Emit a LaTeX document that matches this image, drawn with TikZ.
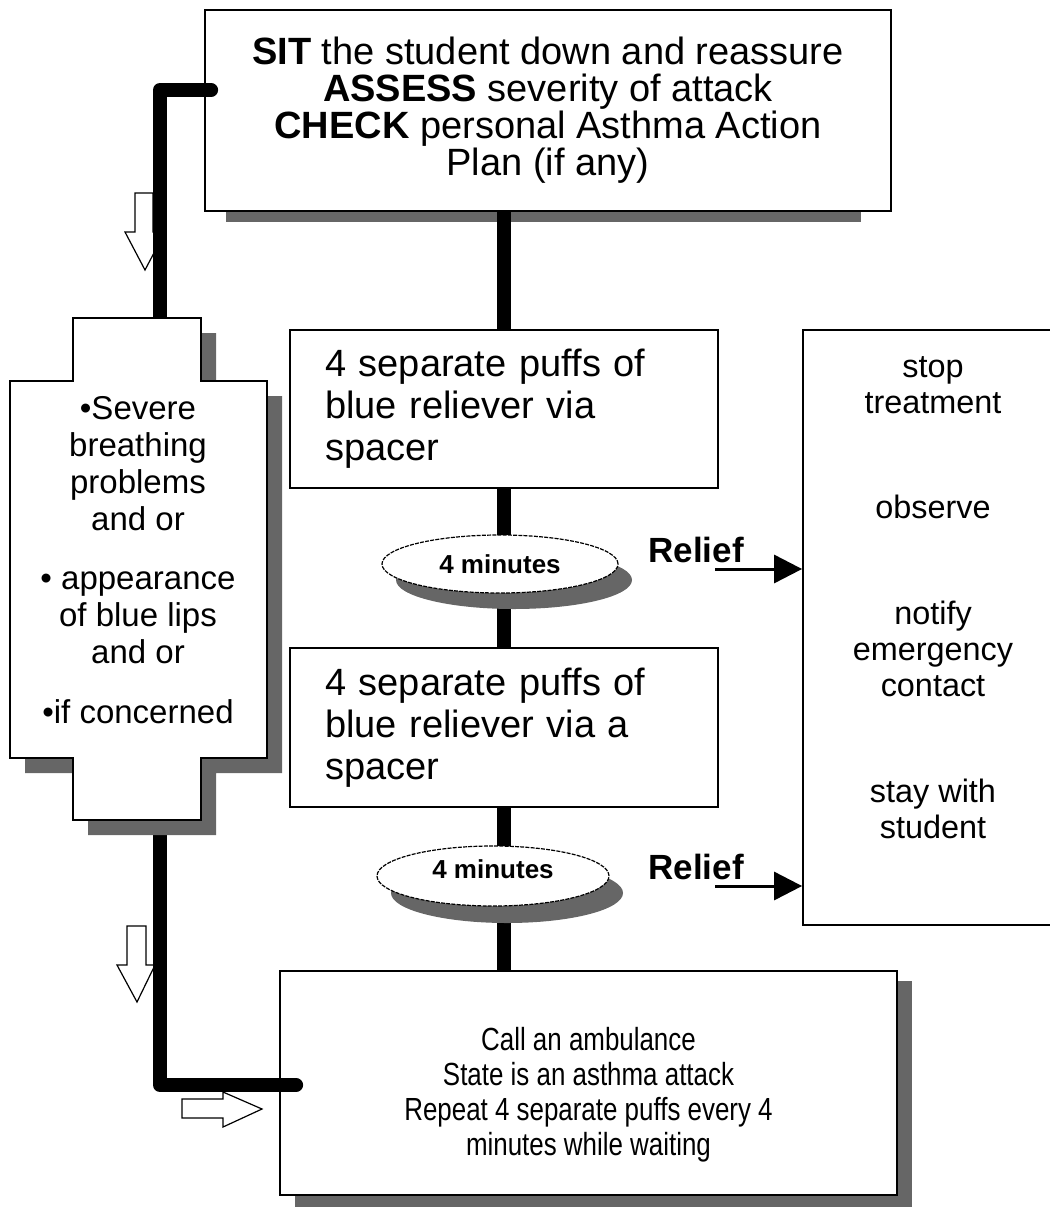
\documentclass[tikz,border=0pt]{standalone}
\usepackage{fontspec}
\setmainfont{Liberation Sans}
\newfontfamily\narrowsans[FakeStretch=0.81]{Liberation Sans}
\usetikzlibrary{arrows.meta,shapes.geometric}
\definecolor{shadowgray}{HTML}{666666}
\newcommand{\sitfont}{\fontsize{19}{18.5}\selectfont}
\newcommand{\puffsfont}{\fontsize{19}{21}\selectfont}
\newcommand{\signsfont}{\fontsize{16.5}{18.5}\selectfont}
\newcommand{\careafont}{\fontsize{16.2}{18}\selectfont}
\newcommand{\ambfont}{\narrowsans\fontsize{16}{17.5}\selectfont}
\newcommand{\minsfont}{\bfseries\fontsize{13}{14}\selectfont}
\newcommand{\relieffont}{\bfseries\fontsize{17.5}{18}\selectfont}

\begin{document}
\begin{tikzpicture}[x=0.5pt,y=-0.5pt,
  box/.style={draw,fill=white,line width=0.9pt,inner sep=0pt},
  oval/.style={draw,fill=white,ellipse,inner sep=0pt,line width=0.6pt,dash pattern=on 2pt off 0.6pt},
  spine/.style={line width=7pt},
  hollow/.style={draw,fill=white,line width=0.6pt},
  dropshadow/.style={fill=shadowgray},
  reliefarrow/.style={-{Triangle[length=14pt,width=14pt]},line width=1.5pt}]
  \useasboundingbox (0,0) rectangle (1049,1230);
  \def\cross{(73,318) -- (201,318) -- (201,381) -- (267,381) -- (267,758) -- (201,758) -- (201,820) -- (73,820) -- (73,758) -- (10,758) -- (10,381) -- (73,381) -- cycle}
  % shadows of the boxes
  \fill[dropshadow] (226,200) rectangle (861,222);
  \fill[dropshadow] (295,981) rectangle (912,1207);

  \node[box,minimum width=343pt,minimum height=100.5pt,align=center,font=\sitfont] (sit) at (548,110.5)
    {\textbf{SIT} the student down and reassure\\\textbf{ASSESS} severity of attack\\\textbf{CHECK} personal Asthma Action\\Plan (if any)};
  \node[box,minimum width=214pt,minimum height=79pt,inner xsep=17.5pt,text width=179pt,align=left,font=\puffsfont] (puffsa) at (504,409)
    {4 separate puffs of\\blue reliever via\\spacer};
  \node[box,minimum width=214pt,minimum height=79.5pt,inner xsep=17.5pt,text width=179pt,align=left,font=\puffsfont] (puffsb) at (504,727.5)
    {4 separate puffs of\\blue reliever via a\\spacer};
  \node[box,minimum width=308.5pt,minimum height=112pt] (amb) at (588.5,1083) {};
  \node[align=center,font=\ambfont] (ambtext) at (588.5,1094.5)
    {Call an ambulance\\State is an asthma attack\\Repeat 4 separate puffs every 4\\minutes while waiting};
  \node[box,minimum width=124.5pt,minimum height=297.5pt] (care) at (927.5,627.5) {};
  \node[align=center,font=\careafont] (caretext) at (933,597.5)
    {stop\\treatment\\[34.5pt]observe\\[35pt]notify\\emergency\\contact\\[35pt]stay with\\student};

  \coordinate (spine) at (504,0);
  \draw[spine] (sit.south -| spine) -- (puffsa.north -| spine);
  \draw[spine] (puffsa.south -| spine) -- (puffsb.north -| spine);
  \draw[spine] (puffsb.south -| spine) -- (amb.north -| spine);

  \fill[dropshadow] (514,580) ellipse [x radius=59pt,y radius=14.5pt];
  \fill[dropshadow] (507,893) ellipse [x radius=58pt,y radius=15pt];
  \node[oval,minimum width=118pt,minimum height=29pt,font=\minsfont] (minsa) at (500,564) {4 minutes};
  \node[oval,minimum width=116pt,minimum height=30pt,font=\minsfont] (minsb) at (493,876) {\raisebox{7pt}{4 minutes}};

  \node[anchor=base,font=\relieffont] (reliefa) at (696,562) {Relief};
  \node[anchor=base,font=\relieffont] (reliefb) at (696,879) {Relief};
  \coordinate (rela) at (715,569);
  \coordinate (relb) at (715,886);
  \draw[reliefarrow] (rela) -- (rela -| care.west);
  \draw[reliefarrow] (relb) -- (relb -| care.west);

  % hollow arrows beside the left line
  \draw[hollow] (135,193) -- (153,193) -- (153,232) -- (165,232) -- (145,270) -- (125,232) -- (135,232) -- cycle;
  \draw[hollow] (127,926) -- (146,926) -- (146,965) -- (155,965) -- (137,1002) -- (117,965) -- (127,965) -- cycle;
  \draw[hollow] (182,1099) -- (223,1099) -- (223,1092) -- (262,1109) -- (223,1127) -- (223,1118) -- (182,1118) -- cycle;

  \draw[spine,line cap=round,line join=round] ([xshift=3.5pt]sit.west |- 0,90) -| (160,1085) -- ([xshift=8.5pt]amb.west |- 0,1085);

  \fill[dropshadow,shift={(15,15)}] \cross;
  \filldraw[fill=white,draw=black,line width=0.9pt] \cross;
  \node[align=center,font=\signsfont] (signs) at (138,560)
    {\textbullet Severe\\breathing\\problems\\and or\\[11pt]\textbullet{} appearance\\of blue lips\\and or\\[11.5pt]\textbullet if concerned};
\end{tikzpicture}
\end{document}
